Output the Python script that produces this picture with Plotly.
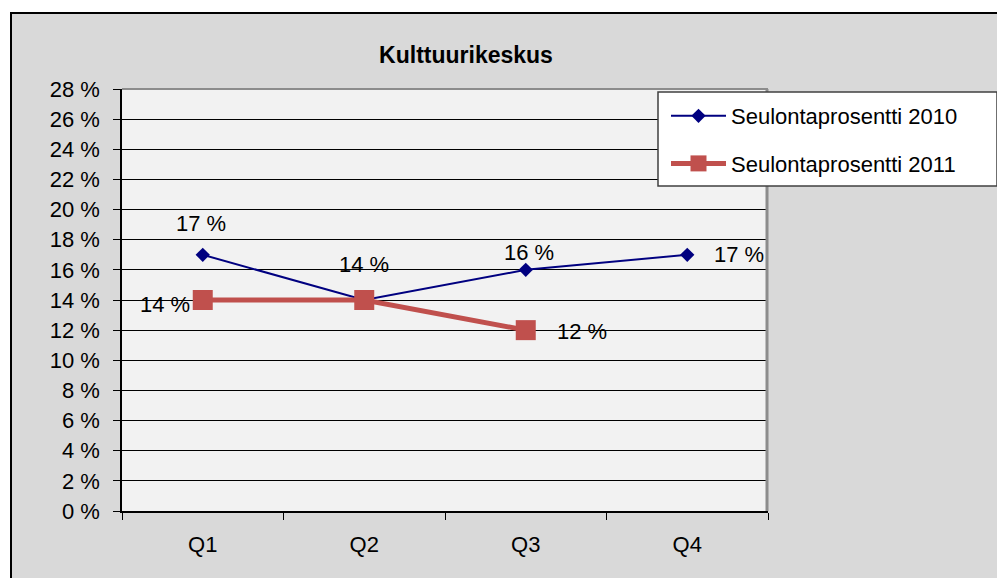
import plotly.graph_objects as go

categories = ["Q1", "Q2", "Q3", "Q4"]
series_2010 = [17, 14, 16, 17]
series_2011 = [14, 14, 12, None]
name_2010 = "Seulontaprosentti 2010"
name_2011 = "Seulontaprosentti 2011"
title_text = "Kulttuurikeskus"
y_ticks = list(range(0, 29, 2))

OFF = 8  # page body margin
W, H = 1005 - OFF, 578 - OFF
L, T = 122 - OFF, 89 - OFF
PR, PB = 768 - OFF, 511 - OFF
R, B = W - PR, H - PB
pw, ph = PR - L, PB - T

def px(x):
    return (x - OFF - L) / pw

def py(y):
    return (PB - (y - OFF)) / ph

FONT = "Liberation Sans, Arial, sans-serif"
NAVY = "#000080"
RED = "#c0504d"

fig = go.Figure()
fig.add_trace(go.Scatter(
    x=categories, y=series_2010, name=name_2010, mode="lines+markers",
    line=dict(color=NAVY, width=2),
    marker=dict(symbol="diamond", size=11, color=NAVY),
    legendgroup="a", hoverinfo="skip"))
fig.add_trace(go.Scatter(
    x=categories, y=series_2011, name=name_2011, mode="lines+markers",
    line=dict(color=RED, width=5),
    marker=dict(symbol="square", size=20, color=RED),
    legendgroup="b", hoverinfo="skip"))

# data labels
lab_2010 = [dict(xanchor="center", xshift=-2, yshift=31),
            dict(xanchor="center", xshift=0, yshift=36),
            dict(xanchor="center", xshift=3, yshift=17),
            dict(xanchor="left", xshift=25, yshift=0)]
lab_2011 = [dict(xanchor="right", xshift=-11, yshift=-4),
            None,
            dict(xanchor="left", xshift=29, yshift=-1),
            None]
annotations = []
for vals, labs in ((series_2010, lab_2010), (series_2011, lab_2011)):
    for c, v, lb in zip(categories, vals, labs):
        if v is None or lb is None:
            continue
        annotations.append(dict(
            x=c, y=v, xref="x", yref="y", text=f"{v} %", showarrow=False,
            yanchor="middle", font=dict(family=FONT, size=22, color="black"),
            **lb))

shapes = [
    # chart area
    dict(type="rect", xref="paper", yref="paper", layer="below",
         x0=px(11), x1=px(1005 + 20), y0=py(578 + 20), y1=py(13),
         fillcolor="#d9d9d9", line=dict(color="black", width=2)),
    # plot area
    dict(type="rect", xref="paper", yref="paper", layer="below",
         x0=0, x1=1, y0=0, y1=1, fillcolor="#f2f2f2", line=dict(width=0)),
    # plot area border top / right
    dict(type="line", xref="paper", yref="paper", layer="above",
         x0=0, x1=1, y0=1, y1=1, line=dict(color="#8c8c8c", width=2)),
    dict(type="line", xref="paper", yref="paper", layer="above",
         x0=px(767), x1=px(767), y0=0, y1=1, line=dict(color="#8c8c8c", width=3)),
    # legend box
    dict(type="rect", xref="paper", yref="paper", layer="above",
         x0=px(658), x1=px(997), y0=py(186), y1=py(92),
         fillcolor="white", line=dict(color="#404040", width=1.5)),
]

fig.update_layout(
    width=W, height=H,
    margin=dict(l=L, r=R, t=T, b=B, autoexpand=False),
    paper_bgcolor="white", plot_bgcolor="rgba(0,0,0,0)",
    font=dict(family=FONT, size=22, color="black"),
    title=dict(text=f"<b>{title_text}</b>", x=(466 - OFF) / W, y=1 - (55 - OFF) / H,
               xref="container", yref="container", xanchor="center",
               yanchor="middle", font=dict(family=FONT, size=23, color="black")),
    showlegend=True,
    legend=dict(x=px(666), y=py(95), xanchor="left", yanchor="top",
                bgcolor="rgba(0,0,0,0)", borderwidth=0,
                traceorder="grouped", tracegroupgap=16, itemwidth=55,
                font=dict(family=FONT, size=22, color="black")),
    xaxis=dict(type="category", range=[-0.5, 3.5], tickson="boundaries",
               ticks="outside", ticklen=7, tickcolor="black", tickwidth=1,
               showline=True, linecolor="black", linewidth=1.5,
               showgrid=False, zeroline=False, ticklabelstandoff=13,
               tickfont=dict(family=FONT, size=22, color="black"),
               fixedrange=True),
    yaxis=dict(range=[0, 28], tickvals=y_ticks, ticktext=[f"{v} %" for v in y_ticks],
               ticks="outside", ticklen=7, tickcolor="black", tickwidth=1,
               showline=True, linecolor="black", linewidth=1.5,
               showgrid=True, gridcolor="black", gridwidth=1, zeroline=False,
               ticklabelstandoff=9,
               tickfont=dict(family=FONT, size=22, color="black"),
               fixedrange=True),
    shapes=shapes,
    annotations=annotations,
)

fig.write_html("out.html")
